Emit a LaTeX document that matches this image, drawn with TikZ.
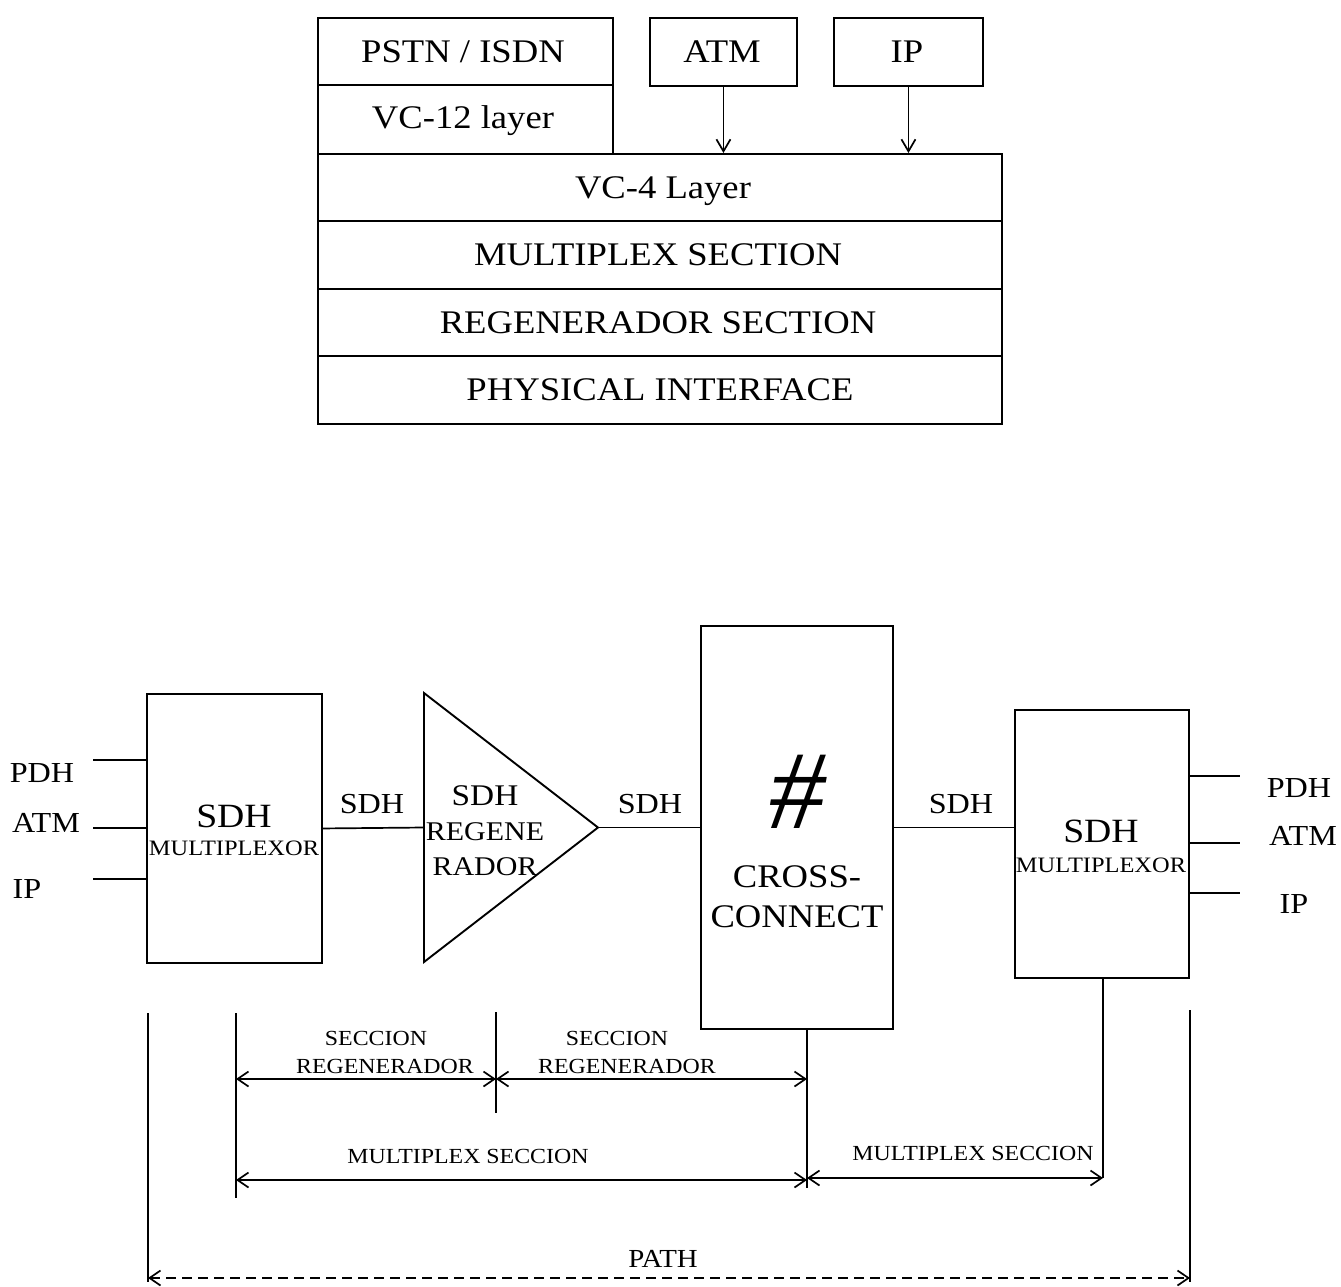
\documentclass[tikz,border=0pt]{standalone}
\usepackage{fontspec}
\setmainfont[FakeStretch=1.11]{Liberation Serif}
\newfontfamily\hashfont{Liberation Serif}
\usetikzlibrary{arrows.meta}
\begin{document}
\begin{tikzpicture}[x=1pt,y=-1pt,
  box/.style={draw, line width=1.9pt, inner sep=0pt, anchor=north west},
  ln/.style={line width=1.9pt},
  thin/.style={line width=1.7pt},
  tip/.style={line width=1.7pt, {Straight Barb[length=11pt,width=15pt]}-{Straight Barb[length=11pt,width=15pt]}},
  downarrow/.style={line width=1.7pt, -{Straight Barb[length=12pt,width=14pt]}},
  lbl/.style={anchor=base, inner sep=0pt},
  tA/.style={lbl, font=\fontsize{33}{36}\selectfont},
  tB/.style={lbl, font=\fontsize{29}{32}\selectfont},
  tC/.style={lbl, font=\fontsize{21.5}{24}\selectfont},
  tM/.style={lbl, font=\fontsize{22}{24}\selectfont},
]
\useasboundingbox (0,0) rectangle (1341,1286);

% ---------- top stack ----------
\node[box, minimum width=295pt, minimum height=67pt] (pstn) at (317,17) {};
\node[box, minimum width=295pt, minimum height=69pt] (vc12) at (317,84) {};
\node[box, minimum width=147pt, minimum height=68pt] (atm) at (649,17) {};
\node[box, minimum width=149pt, minimum height=68pt] (ip) at (833,17) {};
\node[box, minimum width=684pt, minimum height=67pt] (vc4) at (317,153) {};
\node[box, minimum width=684pt, minimum height=68pt] (ms) at (317,220) {};
\node[box, minimum width=684pt, minimum height=67pt] (rs) at (317,288) {};
\node[box, minimum width=684pt, minimum height=68pt] (pi) at (317,355) {};

\node[tA] (tpstn) at (463,62) {PSTN / ISDN};
\node[tA] (tvc12) at (463,128) {VC-12 layer};
\node[tA] (tatm) at (722,62) {ATM};
\node[tA] (tip) at (907,62) {IP};
\node[tA] (tvc4) at (663,198) {VC-4 Layer};
\node[tA] (tms) at (658,265) {MULTIPLEX SECTION};
\node[tA] (trs) at (658,333) {REGENERADOR SECTION};
\node[tA] (tpi) at (660,400) {PHYSICAL INTERFACE};

\draw[downarrow] (atm.south) -- (atm.south |- vc4.north);
\draw[downarrow] (ip.south) -- (ip.south |- vc4.north);

% ---------- bottom network ----------
\node[box, minimum width=175pt, minimum height=269pt] (muxL) at (146,693) {};
\node[box, minimum width=192pt, minimum height=403pt] (xc) at (700,625) {};
\node[box, minimum width=174pt, minimum height=268pt] (muxR) at (1014,709) {};

% regenerator triangle
\coordinate (triT) at (424,693);
\coordinate (triB) at (424,962);
\coordinate (triIn) at (424,827.5);
\coordinate (triOut) at (598,827.5);
\draw[ln, line join=miter] (triT) -- (triOut) -- (triB) -- cycle;

% links
\draw[thin] (muxL.east) -- (triIn);
\draw[thin] (triOut) -- (triOut -| xc.west);
\draw[thin] (triOut -| xc.east) -- (triOut -| muxR.west);

% left tributaries
\coordinate (inP) at (93,760);
\coordinate (inA) at (93,828);
\coordinate (inI) at (93,879);
\draw[thin] (inP) -- (inP -| muxL.west);
\draw[thin] (inA) -- (inA -| muxL.west);
\draw[thin] (inI) -- (inI -| muxL.west);
\node[tB] (lpdh) at (42,782) {PDH};
\node[tB] (latm) at (46,832) {ATM};
\node[tB] (lip) at (27,898) {IP};

% right tributaries
\coordinate (outP) at (1240,776);
\coordinate (outA) at (1240,843);
\coordinate (outI) at (1240,893);
\draw[thin] (outP -| muxR.east) -- (outP);
\draw[thin] (outA -| muxR.east) -- (outA);
\draw[thin] (outI -| muxR.east) -- (outI);
\node[tB] (rpdh) at (1299,797) {PDH};
\node[tB] (ratm) at (1303,845) {ATM};
\node[tB] (rip) at (1294,913) {IP};

% line labels
\node[tB] (s1) at (372,813) {SDH};
\node[tB] (s2) at (650,813) {SDH};
\node[tB] (s3) at (961,813) {SDH};

% box texts
\node[lbl, font=\fontsize{34}{36}\selectfont] (lsdh) at (234,827) {SDH};
\node[tM] (lmux) at (234,855) {MULTIPLEXOR};
\node[lbl, font=\fontsize{34}{36}\selectfont] (rsdh) at (1101,842) {SDH};
\node[tM] (rmux) at (1101,872) {MULTIPLEXOR};
\node[lbl, font=\fontsize{30}{32}\selectfont] (gsdh) at (485,805) {SDH};
\node[lbl, font=\fontsize{27}{29}\selectfont] (greg1) at (485,840) {REGENE};
\node[lbl, font=\fontsize{27}{29}\selectfont] (greg2) at (485,875) {RADOR};
\node[lbl, font=\hashfont\itshape\fontsize{112}{116}\selectfont] (hash) at (797,828) {\#};
\node[tA] (cc1) at (797,887) {CROSS-};
\node[tA] (cc2) at (797,927) {CONNECT};

% ---------- section dimension lines ----------
\coordinate (pL1) at (148,1013);
\coordinate (pL2) at (148,1282);
\coordinate (sL1) at (236,1013);
\coordinate (sL2) at (236,1198);
\coordinate (mid1) at (496,1012);
\coordinate (mid2) at (496,1113);
\coordinate (xcv1) at (807,1028);
\coordinate (xcv2) at (807,1188);
\coordinate (mrv1) at (1103,977);
\coordinate (mrv2) at (1103,1178);
\coordinate (pR1) at (1190,1010);
\coordinate (pR2) at (1190,1282);
\draw[thin] (pL1) -- (pL2);
\draw[thin] (sL1) -- (sL2);
\draw[thin] (mid1) -- (mid2);
\draw[thin] (xcv1) -- (xcv2);
\draw[thin] (mrv1) -- (mrv2);
\draw[thin] (pR1) -- (pR2);

\coordinate (r1a) at (236,1079);
\coordinate (r1b) at (496,1079);
\coordinate (r2b) at (807,1079);
\coordinate (m1a) at (236,1180);
\coordinate (m1b) at (807,1180);
\coordinate (m2a) at (807,1178);
\coordinate (m2b) at (1103,1178);
\coordinate (pa) at (148,1278);
\coordinate (pb) at (1190,1278);
\draw[tip] (r1a) -- (r1b);
\draw[tip] (r1b) -- (r2b);
\draw[tip] (m1a) -- (m1b);
\draw[tip] (m2a) -- (m2b);
\draw[tip, dash pattern=on 10pt off 6pt] (pa) -- (pb);

\node[tC] (sc1) at (376,1045) {SECCION};
\node[tC] (sr1) at (385,1073) {REGENERADOR};
\node[tC] (sc2) at (617,1045) {SECCION};
\node[tC] (sr2) at (627,1073) {REGENERADOR};
\node[tC] (msx1) at (468,1163) {MULTIPLEX SECCION};
\node[tC] (msx2) at (973,1160) {MULTIPLEX SECCION};
\node[lbl, font=\fontsize{26}{28}\selectfont] (path) at (663,1267) {PATH};
\end{tikzpicture}
\end{document}
